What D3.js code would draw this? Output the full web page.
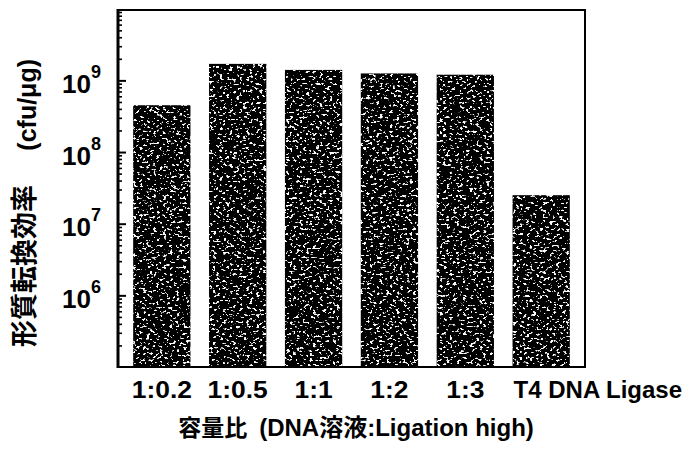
<!DOCTYPE html>
<html>
<head>
<meta charset="utf-8">
<script src="https://cdn.jsdelivr.net/npm/d3@7"></script>
<style>
  html, body { margin: 0; padding: 0; background: #fff; }
  svg { display: block; }
  text { font-family: "Liberation Sans", Arial, "Noto Sans CJK JP", sans-serif; font-weight: bold; fill: #000; }
</style>
</head>
<body>
<svg id="chart" width="684" height="453"></svg>
<script>
// Transformation efficiency for each DNA : Ligation high volume ratio
const categories = ["1:0.2", "1:0.5", "1:1", "1:2", "1:3", "T4 DNA Ligase"];
const efficiency = [4.5e8, 1.7e9, 1.4e9, 1.25e9, 1.2e9, 2.5e7];
const yTickExponents = [6, 7, 8, 9];
const yLabel = "形質転換効率";
const yUnit = "(cfu/μg)";
const xTitleJa = "容量比";
const xTitleRest = "(DNA溶液:Ligation high)";

const svg = d3.select("#chart");
const plotLeft = 118, plotRight = 585, plotTop = 10, plotBottom = 367;

const x = d3.scaleBand()
  .domain(categories)
  .range([plotLeft, plotRight])
  .paddingInner(0.245)
  .paddingOuter(0.2);

const y = d3.scaleLog()
  .domain([1e5, 9.6e9])
  .range([plotBottom, plotTop]);

// speckled print texture for the bars
const defs = svg.append("defs");
const f = defs.append("filter").attr("id", "grain")
  .attr("x", 0).attr("y", 0).attr("width", 1).attr("height", 1)
  .attr("filterUnits", "objectBoundingBox");
f.append("feTurbulence").attr("type", "fractalNoise")
  .attr("baseFrequency", "0.3 0.42").attr("numOctaves", 2).attr("seed", 7)
  .attr("result", "noise");
f.append("feColorMatrix").attr("in", "noise").attr("type", "matrix")
  .attr("values", "0 0 0 0 1  0 0 0 0 1  0 0 0 0 1  16 0 0 0 -9.7")
  .attr("result", "speck");
f.append("feComposite").attr("in", "speck").attr("in2", "SourceGraphic")
  .attr("operator", "in").attr("result", "speckIn");
const m = f.append("feMerge");
m.append("feMergeNode").attr("in", "SourceGraphic");
m.append("feMergeNode").attr("in", "speckIn");

// bars
svg.append("g").selectAll("rect")
  .data(categories.map((c, i) => ({ c, v: efficiency[i] })))
  .join("rect")
  .attr("x", d => x(d.c))
  .attr("width", x.bandwidth())
  .attr("y", d => y(d.v))
  .attr("height", d => plotBottom - y(d.v))
  .attr("fill", "#050505")
  .attr("filter", "url(#grain)");

// minor ticks (2..9 within each decade)
const minor = [];
for (let e = 5; e <= 9; e++) for (let k = 2; k <= 9; k++) {
  const v = k * Math.pow(10, e);
  if (v <= y.domain()[1]) minor.push(v);
}
const minorAxis = svg.append("g")
  .attr("transform", `translate(${plotLeft},0)`)
  .call(d3.axisLeft(y).tickValues(minor).tickSize(-4).tickFormat(""));
minorAxis.select(".domain").remove();
minorAxis.selectAll("line").attr("stroke", "#000").attr("stroke-width", 1.6);

// major ticks with 10^n labels
const majorAxis = svg.append("g")
  .attr("transform", `translate(${plotLeft},0)`)
  .call(d3.axisLeft(y).tickValues(yTickExponents.map(e => Math.pow(10, e)))
    .tickSizeInner(-8).tickSizeOuter(0).tickFormat(""));
majorAxis.select(".domain").remove();
majorAxis.selectAll("line").attr("stroke", "#000").attr("stroke-width", 2);
majorAxis.selectAll(".tick").each(function (d) {
  const t = d3.select(this).append("text")
    .attr("x", -17).attr("y", 12)
    .attr("text-anchor", "end")
    .style("font-size", "26px");
  t.append("tspan").text("10");
  t.append("tspan").attr("dy", -15).style("font-size", "18px")
    .text(Math.round(Math.log10(d)));
});

// frame
svg.append("rect")
  .attr("x", plotLeft).attr("y", plotTop)
  .attr("width", plotRight - plotLeft).attr("height", plotBottom - plotTop)
  .attr("fill", "none").attr("stroke", "#000").attr("stroke-width", 2);
svg.append("line")
  .attr("x1", plotLeft).attr("x2", plotLeft).attr("y1", plotTop - 1).attr("y2", plotBottom + 1)
  .attr("stroke", "#000").attr("stroke-width", 3);

// category axis
const xAxis = svg.append("g")
  .attr("transform", `translate(0,${plotBottom})`)
  .call(d3.axisBottom(x).tickSize(0).tickPadding(0));
xAxis.select(".domain").remove();
xAxis.selectAll(".tick text")
  .attr("y", 31).attr("dy", 0)
  .attr("transform", "scale(1.1,1)")
  .style("font-size", "24px")
  .style("fill", "#000");
xAxis.selectAll(".tick").filter((d, i) => i === categories.length - 1)
  .select("text")
  .attr("transform", null)
  .attr("text-anchor", "start")
  .attr("x", -x.bandwidth() / 2 + 1);

// axis titles
const xt = svg.append("text")
  .attr("x", 356).attr("y", 436)
  .attr("text-anchor", "middle")
  .style("font-size", "24px");
xt.append("tspan").style("font-family", "'Noto Sans CJK JP'").style("font-size", "23px").text(xTitleJa);
xt.append("tspan").attr("dx", 12).text(xTitleRest);

// vertical title: Japanese part runs up from the bottom, unit sits at the top
svg.append("text")
  .attr("transform", "translate(34,347) rotate(-90)")
  .attr("text-anchor", "start")
  .style("font-family", "'Noto Sans CJK JP'")
  .style("font-size", "27px")
  .text(yLabel);
svg.append("text")
  .attr("transform", "translate(36,59) rotate(-90)")
  .attr("text-anchor", "end")
  .style("font-size", "25px")
  .text(yUnit);
</script>
</body>
</html>
